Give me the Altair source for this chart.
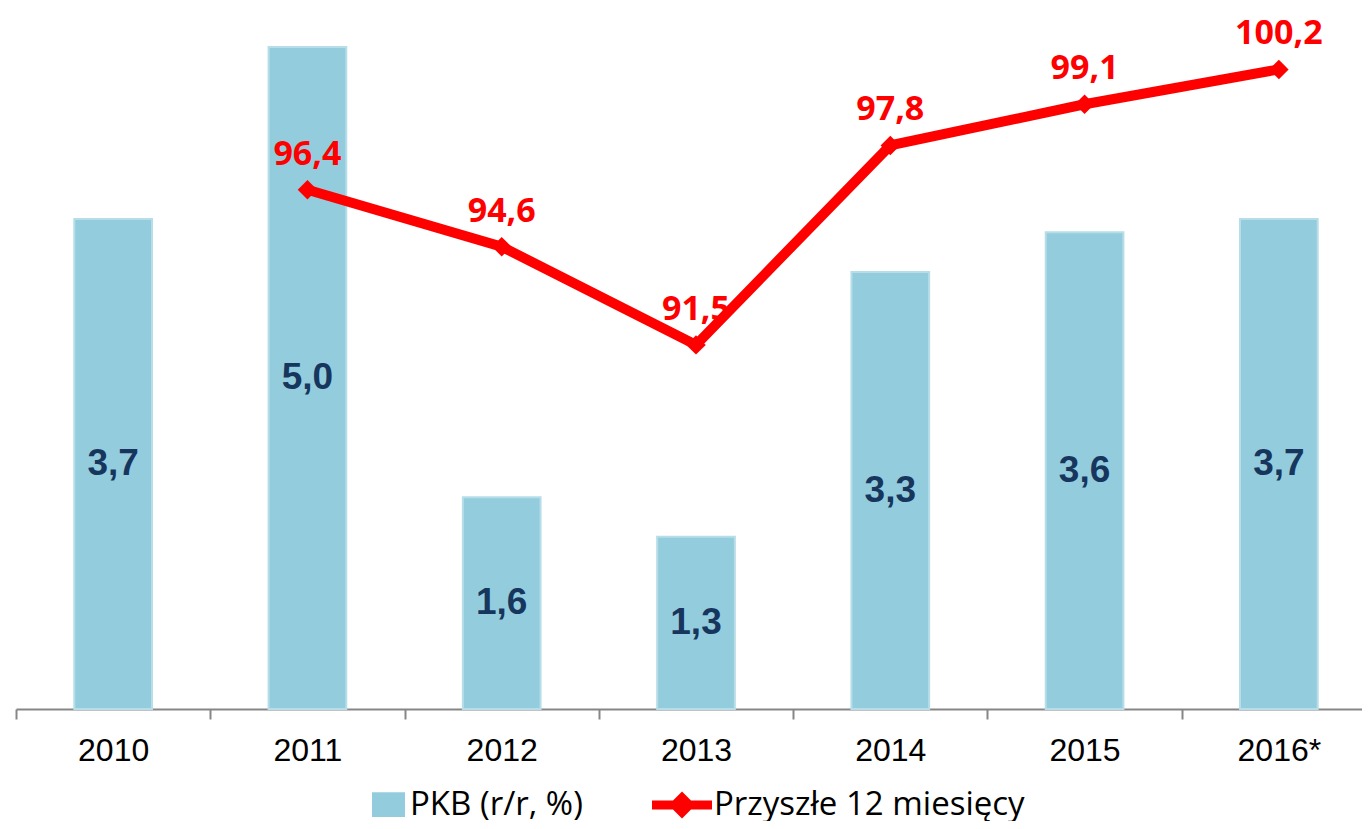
import altair as alt
import pandas as pd

years = ["2010", "2011", "2012", "2013", "2014", "2015", "2016*"]
pkb = [3.7, 5.0, 1.6, 1.3, 3.3, 3.6, 3.7]
future_years = ["2011", "2012", "2013", "2014", "2015", "2016*"]
future = [96.4, 94.6, 91.5, 97.8, 99.1, 100.2]

bar_name = "PKB (r/r, %)"
line_name = "Przyszłe 12 miesięcy"

df_bar = pd.DataFrame({"year": years, "pkb": pkb, "s": bar_name})
df_line = pd.DataFrame({"year": future_years, "v": future, "s": line_name})

W, H = 1360, 695
step = W / 7
BAR_DOMAIN = [0, 5.249]
LINE_DOMAIN = [80, 101.95]

x_axis = alt.Axis(title=None, tickOffset=-step / 2, labelOffset=step / 2, labelAngle=0)
x_enc = alt.X("year:N", scale=alt.Scale(domain=years, paddingInner=0.6, paddingOuter=0.3), axis=x_axis)

bar_sym = "M-1,-0.75L1,-0.75L1,0.75L-1,0.75Z"
line_sym = "M-1,-0.15L-0.3,-0.15L0,-0.45L0.3,-0.15L1,-0.15L1,0.15L0.3,0.15L0,0.45L-0.3,0.15L-1,0.15Z"

LEG_FONT = "Open Sans"

bars = alt.Chart(df_bar).mark_bar(stroke="#B7DEE8", strokeWidth=2).encode(
    x=x_enc,
    y=alt.Y("pkb:Q", scale=alt.Scale(domain=BAR_DOMAIN, nice=False, zero=True), axis=None),
    color=alt.Color("s:N", scale=alt.Scale(range=["#93CDDD"]),
                    legend=alt.Legend(title=None, orient="none", legendX=356, legendY=774,
                                      symbolType=bar_sym, symbolSize=1089, symbolStrokeWidth=0,
                                      labelFontSize=33, labelFont=LEG_FONT, labelLimit=600,
                                      labelColor="black", labelOffset=5)),
)

bar_text = alt.Chart(df_bar).transform_calculate(
    half="datum.pkb / 2",
    lab="replace(format(datum.pkb, '.1f'), '.', ',')",
).mark_text(font="Liberation Sans", fontWeight="bold", fontSize=37, color="#17365D", baseline="middle").encode(
    x=alt.X("year:N", scale=alt.Scale(domain=years)),
    y=alt.Y("half:Q", scale=alt.Scale(domain=BAR_DOMAIN, nice=False, zero=True), axis=None),
    text="lab:N",
)

line = alt.Chart(df_line).mark_line(color="#FF0000", strokeWidth=10).encode(
    x=alt.X("year:N", scale=alt.Scale(domain=years)),
    y=alt.Y("v:Q", scale=alt.Scale(domain=LINE_DOMAIN, nice=False, zero=False), axis=None),
)

points = alt.Chart(df_line).mark_point(shape="diamond", filled=True, size=380, opacity=1).encode(
    x=alt.X("year:N", scale=alt.Scale(domain=years)),
    y=alt.Y("v:Q", scale=alt.Scale(domain=LINE_DOMAIN, nice=False, zero=False), axis=None),
    fill=alt.Fill("s:N", scale=alt.Scale(range=["#FF0000"]),
                  legend=alt.Legend(title=None, orient="none", legendX=636, legendY=761,
                                    symbolType=line_sym, symbolSize=3600, symbolStrokeWidth=0,
                                    labelFontSize=33, labelFont=LEG_FONT, labelLimit=600,
                                    labelColor="black", labelOffset=2)),
)

line_text = alt.Chart(df_line).transform_calculate(
    lab="replace(format(datum.v, '.1f'), '.', ',')",
).mark_text(font="Open Sans", fontWeight="bold", fontSize=34, color="#FF0000", baseline="alphabetic", dy=-25).encode(
    x=alt.X("year:N", scale=alt.Scale(domain=years)),
    y=alt.Y("v:Q", scale=alt.Scale(domain=LINE_DOMAIN, nice=False, zero=False), axis=None),
    text="lab:N",
)

chart = alt.layer(bars, bar_text, line, points, line_text).resolve_scale(
    y="independent", color="independent", fill="independent"
).properties(
    width=W, height=H,
    autosize=alt.AutoSizeParams(type="none"),
    padding={"left": 8, "top": 6, "right": -14, "bottom": 112},
).configure_view(stroke=None).configure_axisX(
    domainColor="#868686", domainWidth=2, tickColor="#868686", tickWidth=2, tickSize=10,
    labelFont="Liberation Sans", labelFontSize=32, labelColor="black", labelPadding=16, grid=False,
)

chart.save("out.html", embed_options={"renderer": "svg", "actions": False})
